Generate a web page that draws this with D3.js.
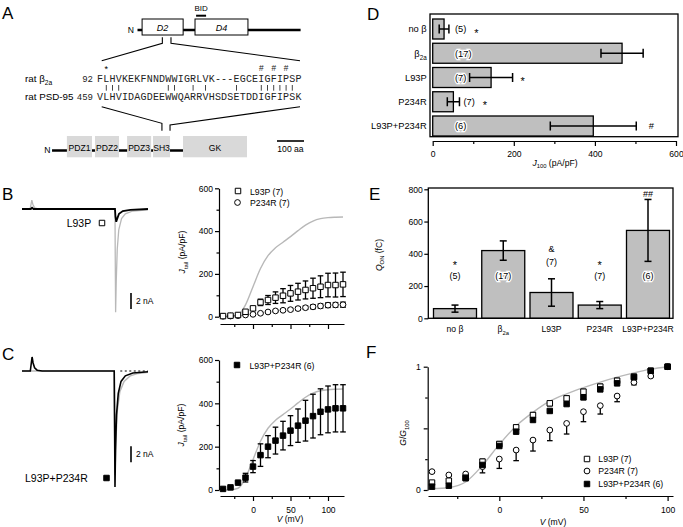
<!DOCTYPE html>
<html>
<head>
<meta charset="utf-8">
<script src="https://cdn.jsdelivr.net/npm/d3@7"></script>
<style>
  body { margin: 0; background: #fff; }
</style>
</head>
<body>
<script>
// ---------- data ----------
const voltsJ = [-40, -30, -20, -10, 0, 10, 20, 30, 40, 50, 60, 70, 80, 90, 100, 110, 120];
const beta2aJ = [0, 1, 8, 55, 140, 225, 285, 322, 348, 374, 402, 428, 447, 458, 463, 465, 466];
const l93pJ = [3, 5, 8, 23, 39, 67, 78, 89, 98, 109, 117, 125, 133, 140, 148, 148, 151];
const l93pJErr = [1, 1, 2, 3, 8, 15, 21, 27, 33, 37, 39, 42, 47, 51, 55, 56, 57];
const p234rJ = [2, 3, 5, 8, 11, 16, 22, 27, 30, 33, 38, 42, 46, 50, 54, 55, 56];
const p234rJErr = [1, 1, 1, 2, 2, 3, 3, 4, 5, 6, 7, 8, 9, 10, 11, 11, 12];
const dblJ = [5, 12, 34, 57, 108, 161, 200, 228, 251, 274, 297, 320, 341, 361, 372, 377, 377];
const dblJErr = [2, 3, 4, 20, 28, 52, 51, 62, 66, 69, 77, 94, 101, 106, 108, 109, 109];

const voltsG = [-40, -30, -20, -10, 0, 10, 20, 30, 40, 50, 60, 70, 80, 90, 100];
const beta2aG = [0.01, 0.02, 0.065, 0.2, 0.37, 0.52, 0.63, 0.72, 0.78, 0.83, 0.875, 0.915, 0.95, 0.98, 1];
const l93pG = [0.06, 0.075, 0.10, 0.23, 0.373, 0.508, 0.608, 0.703, 0.743, 0.797, 0.838, 0.886, 0.919, 0.967, 1];
const l93pGErr = [0.01, 0.01, 0.01, 0.02, 0.02, 0.02, 0.02, 0.02, 0.02, 0.02, 0.02, 0.02, 0.02, 0.01, 0];
const p234rG = [0.149, 0.122, 0.13, 0.189, 0.251, 0.324, 0.405, 0.486, 0.54, 0.635, 0.684, 0.762, 0.873, 0.924, 1];
const p234rGErr = [0.01, 0.01, 0.01, 0.05, 0.076, 0.086, 0.089, 0.086, 0.086, 0.081, 0.068, 0.046, 0.02, 0.01, 0];
const dblG = [0.027, 0.035, 0.095, 0.203, 0.357, 0.473, 0.568, 0.641, 0.697, 0.751, 0.816, 0.865, 0.914, 0.967, 1];

const groups = ["no β", "β2a", "L93P", "P234R", "L93P+P234R"];
const nCells = [5, 17, 7, 7, 6];
const j100 = [28, 467, 144, 51, 396];
const j100Err = [12, 52, 53, 15, 106];
const j100Sig = ["*", "", "*", "*", "#"];
const qOn = [60, 420, 160, 82, 545];
const qOnErr = [22, 60, 85, 22, 192];
const qOnSig = ["*", "", "&", "*", "##"];

// current traces (time in ms, current in nA)
const traceBGray = [[0,0],[3.2,0],[3.6,0.6],[3.9,1.1],[4.3,0.6],[5,0.15],[6,0.05],[8,0],[36.9,0],[37.0,-6],[37.15,-12.9],[37.4,-9],[37.8,-5],[38.4,-2.6],[39.5,-1.2],[41,-0.6],[44,-0.25],[50,-0.1]];
const traceBBlack = [[0,0],[3.5,0],[4,0.15],[4.6,0],[36.9,0],[37.1,-1.0],[37.4,-1.6],[37.8,-1.2],[38.5,-0.6],[40,-0.25],[43,-0.1],[50,0]];
const traceCGray = [[0,0],[36.6,0],[36.75,-6],[36.9,-13],[37.2,-9],[37.8,-5],[38.8,-2.6],[40.5,-1.3],[43,-0.6],[46,-0.3],[50,-0.15]];
const traceCBlack = [[0,0],[3.3,0],[3.7,1.0],[4.0,1.75],[4.4,1.0],[5,0.4],[6,0.1],[8,0],[36.6,0],[36.75,-7],[36.9,-14.5],[37.1,-10],[37.5,-5.5],[38.2,-2.8],[39.3,-1.3],[41,-0.6],[44,-0.25],[50,-0.1]];

// panel A: sequences and domains (residue numbers)
const seqBeta = "FLHVKEKFNNDWWIGRLVK---EGCEIGFIPSP";
const seqPsd = "VLHVIDAGDEEWWQARRVHSDSETDDIGFIPSK";
const betaDomains = [{name: "D2", from: 17, to: 169}, {name: "D4", from: 213, to: 409}];
const betaBid = [217, 254];
const psdDomains = [
  {name: "PDZ1", from: 107, to: 200}, {name: "PDZ2", from: 211, to: 300},
  {name: "PDZ3", from: 330, to: 419}, {name: "SH3", from: 426, to: 489},
  {name: "GK", from: 537, to: 774}
];

// ---------- setup ----------
const FONT = '"Liberation Sans", Arial, Helvetica, sans-serif';
const MONO = '"Liberation Mono", "Courier New", monospace';

const svg = d3.select("body").append("svg")
  .attr("width", 683).attr("height", 527)
  .style("font-family", FONT);

function styleAxis(g, size) {
  g.attr("font-family", null).attr("font-size", null);
  g.selectAll("text").attr("font-family", FONT).attr("font-size", size).attr("fill", "#000");
  g.selectAll("line,path").attr("stroke", "#000").attr("stroke-width", 1.2);
}

// text with italic / subscript parts
function richText(x, y, parts, size, anchor, rotate) {
  const t = svg.append("text").attr("x", x).attr("y", y)
    .attr("font-size", size).attr("text-anchor", anchor || "start");
  if (rotate) t.attr("transform", `rotate(-90,${x},${y})`);
  let shift = 0;
  parts.forEach(p => {
    const ts = t.append("tspan").text(p.t);
    if (p.i) ts.attr("font-style", "italic");
    const want = p.sub ? size * 0.32 : 0;
    ts.attr("dy", want - shift);
    shift = want;
    if (p.sub) ts.attr("font-size", size * 0.68);
  });
  return t;
}

function groupLabel(name) {
  if (name === "β2a") return [{t: "β"}, {t: "2a", sub: true}];
  return [{t: name}];
}

const symGen = {
  sq: d3.symbol().type(d3.symbolSquare).size(30),
  ci: d3.symbol().type(d3.symbolCircle).size(26),
  fsq: d3.symbol().type(d3.symbolSquare).size(30)
};
function symbol(g, kind, x, y) {
  return g.append("path").attr("d", symGen[kind]())
    .attr("transform", `translate(${x},${y})`)
    .attr("fill", kind === "fsq" ? "#000" : "#fff")
    .attr("stroke", "#000").attr("stroke-width", 1);
}

function drawSeries(x, y, vs, vals, errs, kind, oneSided) {
  const g = svg.append("g");
  const pts = vs.map((v, i) => ({v, m: vals[i], e: errs ? errs[i] : 0}));
  const eg = g.append("g").attr("stroke", "#000").attr("stroke-width", 1.3);
  pts.filter(p => p.e > 0).forEach(p => {
    const cx = x(p.v);
    const lo = y(p.m - p.e), hi = oneSided ? y(p.m) : y(p.m + p.e);
    eg.append("line").attr("x1", cx).attr("x2", cx).attr("y1", lo).attr("y2", hi);
    eg.append("line").attr("x1", cx - 2.8).attr("x2", cx + 2.8).attr("y1", lo).attr("y2", lo);
    if (!oneSided) eg.append("line").attr("x1", cx - 2.8).attr("x2", cx + 2.8).attr("y1", hi).attr("y2", hi);
  });
  pts.forEach(p => symbol(g, kind, x(p.v), y(p.m)));
}

// panel letters
[["A", 2, 19], ["B", 2, 200], ["C", 2, 360], ["D", 367, 20], ["E", 369, 200], ["F", 366, 358]]
  .forEach(([l, x, y]) => svg.append("text").attr("x", x).attr("y", y).attr("font-size", 17).text(l));

// ---------- panel A ----------
const xb = d3.scaleLinear().domain([0, 604]).range([137.5, 300.6]);
svg.append("line").attr("x1", xb(0)).attr("x2", xb(604)).attr("y1", 30).attr("y2", 30)
  .attr("stroke", "#000").attr("stroke-width", 2.6);
betaDomains.forEach(d => {
  svg.append("rect").attr("x", xb(d.from)).attr("y", 19).attr("width", xb(d.to) - xb(d.from)).attr("height", 16)
    .attr("fill", "#fff").attr("stroke", "#000").attr("stroke-width", 1);
  svg.append("text").attr("x", (xb(d.from) + xb(d.to)) / 2).attr("y", 30.5).attr("text-anchor", "middle")
    .attr("font-size", 9).attr("font-style", "italic").text(d.name);
});
svg.append("text").attr("x", 134).attr("y", 33.3).attr("text-anchor", "end").attr("font-size", 8.6).text("N");
svg.append("line").attr("x1", xb(betaBid[0])).attr("x2", xb(betaBid[1])).attr("y1", 15.7).attr("y2", 15.7)
  .attr("stroke", "#000").attr("stroke-width", 2);
svg.append("text").attr("x", (xb(betaBid[0]) + xb(betaBid[1])) / 2).attr("y", 10.5).attr("text-anchor", "middle")
  .attr("font-size", 8).text("BID");

const seqStart = 92;
const seqEnd = seqStart + 32;
const zoomLines = svg.append("g").attr("stroke", "#000").attr("stroke-width", 1.1).attr("fill", "none");
zoomLines.append("path").attr("d", `M${xb(seqStart)},37.3V43.3L101.7,60.7`);
zoomLines.append("path").attr("d", `M${xb(seqEnd)},37.3V43.3L300,60.7`);

const seqX = i => 97 + (i + 0.5) * 6.2;
const seqG = svg.append("g").attr("font-family", MONO).attr("font-size", 10).attr("fill", "#222").attr("text-anchor", "middle");
seqBeta.split("").forEach((c, i) => seqG.append("text").attr("x", seqX(i)).attr("y", 82.3).text(c));
seqPsd.split("").forEach((c, i) => seqG.append("text").attr("x", seqX(i)).attr("y", 100).text(c));
seqBeta.split("").forEach((c, i) => {
  if (c === seqPsd[i]) svg.append("line").attr("x1", seqX(i)).attr("x2", seqX(i)).attr("y1", 85).attr("y2", 90.7)
    .attr("stroke", "#444").attr("stroke-width", 1);
});
// marks above the beta2a sequence: L93 (*) and the IGFIP residues (#)
svg.append("text").attr("x", seqX(1)).attr("y", 72).attr("text-anchor", "middle").attr("font-size", 9).text("*");
[26, 28, 30].forEach(i => svg.append("text").attr("x", seqX(i)).attr("y", 71.3).attr("text-anchor", "middle")
  .attr("font-family", MONO).attr("font-size", 8.5).attr("fill", "#222").text("#"));
svg.append("text").attr("x", 93).attr("y", 82.3).attr("text-anchor", "end").attr("font-family", MONO).attr("font-size", 9).attr("fill", "#222").text(seqStart);
svg.append("text").attr("x", 93).attr("y", 100).attr("text-anchor", "end").attr("font-family", MONO).attr("font-size", 9).attr("fill", "#222").text(459);
richText(25, 82, [{t: "rat β"}, {t: "2a", sub: true}], 9.8);
richText(25, 100, [{t: "rat PSD-95"}], 9.8);

const xp = d3.scaleLinear().domain([0, 100]).range([38, 65]);
zoomLines.append("path").attr("d", `M101.7,106.7L${xp(459)},123.3V130.7`);
zoomLines.append("path").attr("d", `M300,106.7L${xp(489)},125V130.7`);
svg.append("line").attr("x1", xp(52)).attr("x2", xp(537)).attr("y1", 150.5).attr("y2", 150.5)
  .attr("stroke", "#000").attr("stroke-width", 2.4);
psdDomains.forEach(d => {
  svg.append("rect").attr("x", xp(d.from)).attr("y", 136).attr("width", xp(d.to) - xp(d.from)).attr("height", 21.3)
    .attr("fill", "#d9d9d9");
  svg.append("text").attr("x", (xp(d.from) + xp(d.to)) / 2).attr("y", 150.5).attr("text-anchor", "middle")
    .attr("font-size", 8.6).text(d.name);
});
svg.append("text").attr("x", 50.5).attr("y", 152.5).attr("text-anchor", "end").attr("font-size", 8.6).text("N");
svg.append("line").attr("x1", 277).attr("x2", 277 + xp(100) - xp(0)).attr("y1", 141).attr("y2", 141)
  .attr("stroke", "#000").attr("stroke-width", 1.6);
svg.append("text").attr("x", 277 + (xp(100) - xp(0)) / 2).attr("y", 151.5).attr("text-anchor", "middle")
  .attr("font-size", 8.6).text("100 aa");

// ---------- traces B and C ----------
const xT = d3.scaleLinear().domain([0, 50]).range([22, 148]);
const yTB = d3.scaleLinear().domain([0, -2]).range([209, 225]);
const yTC = d3.scaleLinear().domain([0, -2]).range([371, 387]);
const traceLine = (y) => d3.line().x(d => xT(d[0])).y(d => y(d[1]));

svg.append("path").attr("d", traceLine(yTB)(traceBGray)).attr("fill", "none").attr("stroke", "#b8b8b8").attr("stroke-width", 1.3);
svg.append("path").attr("d", traceLine(yTB)(traceBBlack)).attr("fill", "none").attr("stroke", "#000").attr("stroke-width", 1.8);
svg.append("path").attr("d", traceLine(yTC)(traceCGray)).attr("fill", "none").attr("stroke", "#b8b8b8").attr("stroke-width", 1.5);
svg.append("path").attr("d", traceLine(yTC)(traceCBlack)).attr("fill", "none").attr("stroke", "#000").attr("stroke-width", 1.6);
svg.append("line").attr("x1", xT(39)).attr("x2", xT(50)).attr("y1", yTC(0)).attr("y2", yTC(0))
  .attr("stroke", "#000").attr("stroke-width", 1).attr("stroke-dasharray", "2,2.5");

// scale bars
[[yTB, -10.5, 303.5], [yTC, -9.4, 457]].forEach(([y, top, ty]) => {
  svg.append("line").attr("x1", 131).attr("x2", 131).attr("y1", y(top)).attr("y2", y(top - 2))
    .attr("stroke", "#000").attr("stroke-width", 1.6);
  svg.append("text").attr("x", 136).attr("y", ty).attr("font-size", 8.5).text("2 nA");
});
svg.append("text").attr("x", 66.7).attr("y", 227).attr("font-size", 10.5).text("L93P");
symbol(svg, "sq", 102, 223);
svg.append("text").attr("x", 25).attr("y", 482).attr("font-size", 10.5).text("L93P+P234R");
symbol(svg, "fsq", 106.5, 478);

// ---------- J-V plots B and C ----------
const xV = d3.scaleLinear().domain([-40, 120]).range([223, 343]);
const xVAxis = d3.scaleLinear().domain([xV.invert(220), xV.invert(344)]).range([220, 344]);
const yB = d3.scaleLinear().domain([0, 600]).range([316.7, 188.3]);
const yC = d3.scaleLinear().domain([0, 600]).range([490, 360]);

function jvAxes(y, yAxisX, xAxisY, labels) {
  const gy = svg.append("g").attr("transform", `translate(${yAxisX},0)`)
    .call(d3.axisLeft(y).tickValues([0, 200, 400, 600]).tickSize(4).tickSizeOuter(0).tickPadding(2));
  styleAxis(gy, 8.5);
  const gym = svg.append("g").attr("transform", `translate(${yAxisX},0)`)
    .call(d3.axisLeft(y).tickValues([100, 300, 500]).tickSize(2.5).tickFormat(""));
  gym.select(".domain").remove();
  styleAxis(gym, 8.5);
  const gx = svg.append("g").attr("transform", `translate(0,${xAxisY})`)
    .call(d3.axisBottom(xVAxis).tickValues([0, 50, 100]).tickSize(5).tickSizeOuter(0).tickPadding(6)
      .tickFormat(labels ? d3.format("d") : ""));
  styleAxis(gx, 8.5);
  const gxm = svg.append("g").attr("transform", `translate(0,${xAxisY})`)
    .call(d3.axisBottom(xVAxis).tickValues([-25, 25, 75]).tickSize(3).tickFormat(""));
  gxm.select(".domain").remove();
  styleAxis(gxm, 8.5);
}

const refCurve = (x, y) => d3.line().x(d => x(d[0])).y(d => y(d[1])).curve(d3.curveMonotoneX);

jvAxes(yB, 219, 324, false);
svg.append("path").attr("d", refCurve(xV, yB)(voltsJ.map((v, i) => [v, beta2aJ[i]])))
  .attr("fill", "none").attr("stroke", "#b8b8b8").attr("stroke-width", 1.4);
drawSeries(xV, yB, voltsJ, p234rJ, p234rJErr, "ci");
drawSeries(xV, yB, voltsJ, l93pJ, l93pJErr, "sq");
richText(185, 252, [{t: "J", i: true}, {t: "tail", sub: true}, {t: " (pA/pF)"}], 8.6, "middle", true);
symbol(svg, "sq", 238, 191);
svg.append("text").attr("x", 250).attr("y", 194.5).attr("font-size", 8.7).text("L93P (7)");
symbol(svg, "ci", 237.5, 202.5);
svg.append("text").attr("x", 250).attr("y", 205.5).attr("font-size", 8.7).text("P234R (7)");

jvAxes(yC, 219, 496, true);
svg.append("path").attr("d", refCurve(xV, yC)(voltsJ.map((v, i) => [v, beta2aJ[i]])))
  .attr("fill", "none").attr("stroke", "#b8b8b8").attr("stroke-width", 1.4);
drawSeries(xV, yC, voltsJ, dblJ, dblJErr, "fsq");
richText(184, 425, [{t: "J", i: true}, {t: "tail", sub: true}, {t: " (pA/pF)"}], 8.6, "middle", true);
richText(290, 522, [{t: "V", i: true}, {t: " (mV)"}], 8.6, "middle");
symbol(svg, "fsq", 237, 365);
svg.append("text").attr("x", 249.5).attr("y", 368.5).attr("font-size", 8.7).text("L93P+P234R (6)");

// ---------- panel D ----------
const xD = d3.scaleLinear().domain([0, 600]).range([432.7, 676]);
const yD = d3.scalePoint().domain(groups).range([29, 126]);
svg.append("rect").attr("x", 430).attr("y", 14).attr("width", 248).attr("height", 122.7)
  .attr("fill", "none").attr("stroke", "#000").attr("stroke-width", 1.3);
groups.forEach((g, i) => {
  const cy = yD(g);
  const barEnd = xD(j100[i]);
  svg.append("rect").attr("x", xD(0)).attr("y", cy - 10).attr("width", barEnd - xD(0)).attr("height", 20)
    .attr("fill", "#bfbfbf").attr("stroke", "#000").attr("stroke-width", 1.3);
  const lo = xD(j100[i] - j100Err[i]), hi = xD(j100[i] + j100Err[i]);
  const eg = svg.append("g").attr("stroke", "#000").attr("stroke-width", 1.5);
  eg.append("line").attr("x1", lo).attr("x2", hi).attr("y1", cy).attr("y2", cy);
  eg.append("line").attr("x1", lo).attr("x2", lo).attr("y1", cy - 4.5).attr("y2", cy + 4.5);
  eg.append("line").attr("x1", hi).attr("x2", hi).attr("y1", cy - 4.5).attr("y2", cy + 4.5);
  richText(426.7, cy + 3.3, groupLabel(g), 9.3, "end");
  const inside = barEnd > 472;
  const nx = inside ? 455 : Math.max(455, hi + 4);
  const nt = svg.append("text").attr("x", nx).attr("y", cy + 3.3).attr("font-size", 9.3).text(`(${nCells[i]})`);
  if (inside) nt.attr("stroke", "#fff").attr("stroke-width", 2.5).attr("paint-order", "stroke");
  const nEnd = nx + nt.node().getComputedTextLength();
  if (j100Sig[i]) {
    const star = j100Sig[i] === "*";
    const sx = Math.max(nEnd, hi) + (star ? 10 : 15);
    svg.append("text").attr("x", sx).attr("y", cy + (star ? 7.5 : 3.3)).attr("text-anchor", "middle")
      .attr("font-size", star ? 11 : 9.3).text(j100Sig[i]);
  }
});
const gxD = svg.append("g").attr("transform", "translate(0,141)")
  .call(d3.axisBottom(xD).tickValues([0, 200, 400, 600]).tickSize(5).tickSizeOuter(0).tickPadding(4.5));
styleAxis(gxD, 8.6);
const gxDm = svg.append("g").attr("transform", "translate(0,141)")
  .call(d3.axisBottom(xD).tickValues([100, 300, 500]).tickSize(3).tickFormat(""));
gxDm.select(".domain").remove();
styleAxis(gxDm, 8.6);
richText(555, 165.5, [{t: "J", i: true}, {t: "100", sub: true}, {t: " (pA/pF)"}], 8.6, "middle");

// ---------- panel E ----------
const xE = d3.scalePoint().domain(groups).range([455, 648]);
const yE = d3.scaleLinear().domain([0, 800]).range([318.3, 189.3]);
groups.forEach((g, i) => {
  const cx = xE(g);
  svg.append("rect").attr("x", cx - 21.5).attr("y", yE(qOn[i])).attr("width", 43).attr("height", yE(0) - yE(qOn[i]))
    .attr("fill", "#bfbfbf").attr("stroke", "#000").attr("stroke-width", 1.3);
  const lo = yE(qOn[i] - qOnErr[i]), hi = yE(qOn[i] + qOnErr[i]);
  const eg = svg.append("g").attr("stroke", "#000").attr("stroke-width", 1.5);
  eg.append("line").attr("x1", cx).attr("x2", cx).attr("y1", lo).attr("y2", hi);
  eg.append("line").attr("x1", cx - 3.5).attr("x2", cx + 3.5).attr("y1", lo).attr("y2", lo);
  eg.append("line").attr("x1", cx - 3.5).attr("x2", cx + 3.5).attr("y1", hi).attr("y2", hi);
  richText(cx, 332, groupLabel(g), 8.6, "middle");
});
// n and significance labels
groups.forEach((g, i) => {
  const cx = xE(g);
  const inside = i === 1 || i === 4;
  const ny = i === 2 ? 265 : 278.5;
  const nt = svg.append("text").attr("x", cx).attr("y", ny).attr("text-anchor", "middle").attr("font-size", 9).text(`(${nCells[i]})`);
  if (inside) nt.attr("stroke", "#fff").attr("stroke-width", 2.5).attr("paint-order", "stroke");
  if (qOnSig[i]) {
    let sy, fs = 9;
    if (qOnSig[i] === "*") { sy = ny - 9.5; fs = 11; }
    else if (qOnSig[i] === "&") sy = ny - 13;
    else sy = yE(qOn[i] + qOnErr[i]) - 2;
    svg.append("text").attr("x", cx).attr("y", sy).attr("text-anchor", "middle").attr("font-size", fs).text(qOnSig[i]);
  }
});
svg.append("rect").attr("x", 428.3).attr("y", 188).attr("width", 244.7).attr("height", 130.3)
  .attr("fill", "none").attr("stroke", "#000").attr("stroke-width", 1.3);
const gyE = svg.append("g").attr("transform", "translate(428.3,0)")
  .call(d3.axisLeft(yE).tickValues([0, 200, 400, 600, 800]).tickSize(4).tickSizeOuter(0).tickPadding(1.5));
gyE.select(".domain").remove();
styleAxis(gyE, 8.6);
richText(381.5, 255, [{t: "Q", i: true}, {t: "ON", sub: true}, {t: " (fC)"}], 8.6, "middle", true);

// ---------- panel F ----------
const xF = d3.scaleLinear().domain([-40, 100]).range([432, 667.6]);
const xFAxis = d3.scaleLinear().domain([xF.invert(428), xF.invert(673)]).range([428, 673]);
const yF = d3.scaleLinear().domain([0, 1]).range([490, 366.7]);
const gyF = svg.append("g").attr("transform", "translate(427.7,0)")
  .call(d3.axisLeft(yF).tickValues([0, 0.5, 1]).tickSize(4).tickSizeOuter(0).tickPadding(3)
    .tickFormat(d => d === 0.5 ? "" : d));
styleAxis(gyF, 8.6);
const gyFm = svg.append("g").attr("transform", "translate(427.7,0)")
  .call(d3.axisLeft(yF).tickValues([0.25, 0.75]).tickSize(2.5).tickFormat(""));
gyFm.select(".domain").remove();
styleAxis(gyFm, 8.6);
const gxF = svg.append("g").attr("transform", "translate(0,496)")
  .call(d3.axisBottom(xFAxis).tickValues([0, 50, 100]).tickSize(5).tickSizeOuter(0).tickPadding(6));
styleAxis(gxF, 8.6);
const gxFm = svg.append("g").attr("transform", "translate(0,496)")
  .call(d3.axisBottom(xFAxis).tickValues([-25, 25, 75]).tickSize(3).tickFormat(""));
gxFm.select(".domain").remove();
styleAxis(gxFm, 8.6);
svg.append("path").attr("d", refCurve(xF, yF)(voltsG.map((v, i) => [v, beta2aG[i]])))
  .attr("fill", "none").attr("stroke", "#b8b8b8").attr("stroke-width", 1.4);
drawSeries(xF, yF, voltsG, p234rG, p234rGErr, "ci", true);
drawSeries(xF, yF, voltsG, l93pG, l93pGErr, "sq");
drawSeries(xF, yF, voltsG, dblG, null, "fsq");
richText(406, 433, [{t: "G", i: true}, {t: "/"}, {t: "G", i: true}, {t: "100", sub: true}], 8.6, "middle", true);
richText(553, 525, [{t: "V", i: true}, {t: " (mV)"}], 8.6, "middle");
[["sq", "L93P (7)", 459], ["ci", "P234R (7)", 471], ["fsq", "L93P+P234R (6)", 484]].forEach(([k, label, y]) => {
  symbol(svg, k, 587, y);
  svg.append("text").attr("x", 598.3).attr("y", y + 3.4).attr("font-size", 8.7).text(label);
});
</script>
</body>
</html>
